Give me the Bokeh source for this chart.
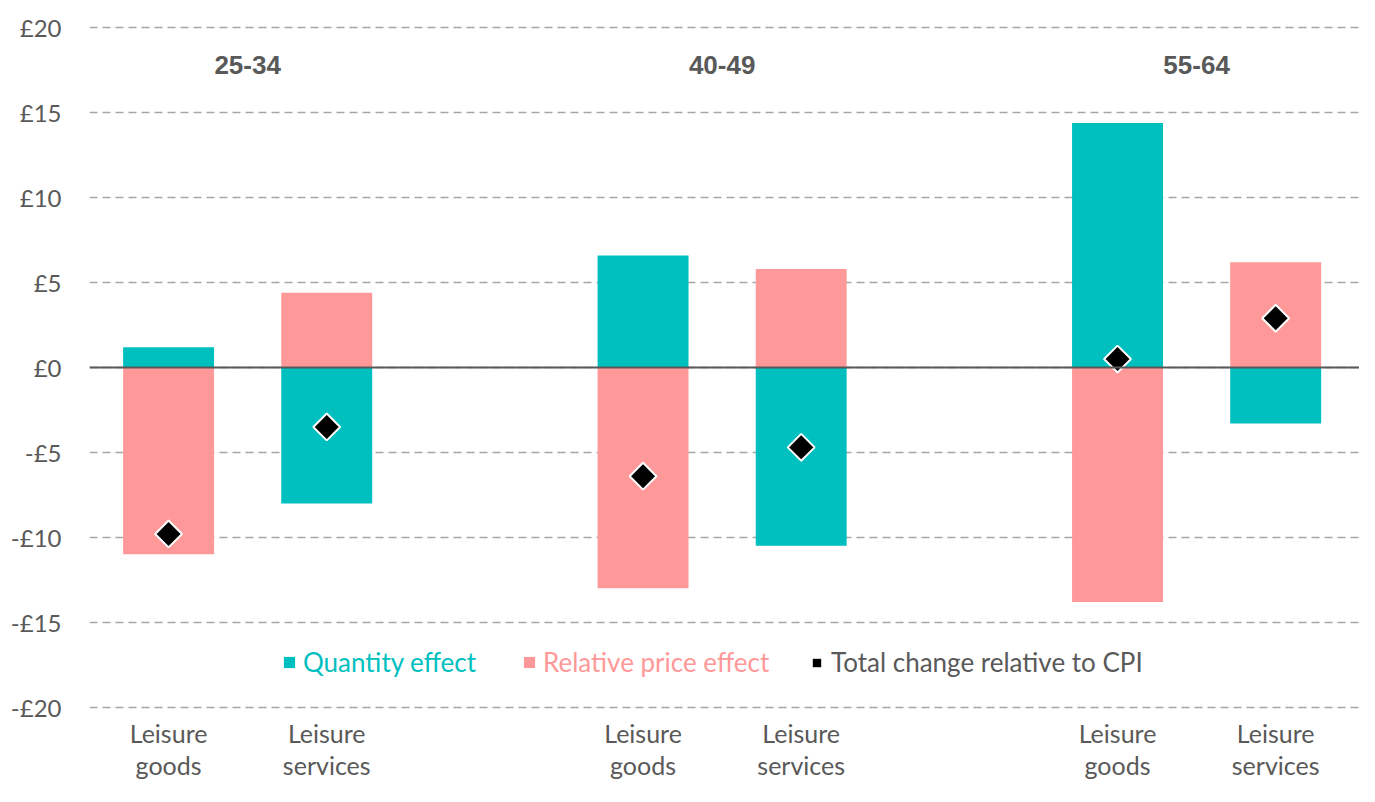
import math
from bokeh.plotting import figure
from bokeh.models import (ColumnDataSource, Range1d, FixedTicker, Legend, LegendItem, Span)
from bokeh.core.properties import value
from bokeh.embed import file_html
from bokeh.resources import INLINE

# ---- data ----
age_groups = ["25-34", "40-49", "55-64"]
categories = ["Leisure\ngoods", "Leisure\nservices"]
quantity_effect = [1.2, -8.0, 6.6, -10.5, 14.4, -3.3]
price_effect = [-11.0, 4.4, -13.0, 5.8, -13.8, 6.2]
total_change = [-9.8, -3.5, -6.4, -4.7, 0.5, 2.9]
y_ticks = [-20, -15, -10, -5, 0, 5, 10, 15, 20]
y_tick_labels = ["-£20", "-£15", "-£10", "-£5", "£0", "£5", "£10", "£15", "£20"]

TEAL = "#00BFBF"
PINK = "#FF9999"
GREY = "#595959"
FONT = "Lato"

# positions: each age group takes 3 slots (2 bars + gap)
xs = []
labels = []
for gi, g in enumerate(age_groups):
    for ci, c in enumerate(categories):
        xs.append(gi * 3 + ci)
        labels.append(c)
group_x = [gi * 3 + 0.5 for gi in range(len(age_groups))]

src = ColumnDataSource(dict(x=xs, q=quantity_effect, p=price_effect, t=total_change))

y_lo, y_hi = min(y_ticks), max(y_ticks)
p = figure(width=1359, height=786, output_backend="svg", toolbar_location=None,
           x_range=Range1d(-0.5, 7.53), y_range=Range1d(y_lo - 4.67, y_hi + 1.61),
           min_border=0, min_border_left=89)
p.outline_line_color = None
p.background_fill_color = "white"
p.xaxis.visible = False

# bars
r_q = p.vbar(x="x", top="q", bottom=0, width=0.575, source=src, fill_color=TEAL, line_color=None)
r_p = p.vbar(x="x", top="p", bottom=0, width=0.575, source=src, fill_color=PINK, line_color=None)

# zero line
p.add_layout(Span(location=0, dimension="width", line_color=GREY, line_width=2))

# totals
r_t = p.scatter(x="x", y="t", source=src, marker="square", angle=math.pi / 4, size=19,
                fill_color="black", line_color="white", line_width=2)

# group labels
gsrc = ColumnDataSource(dict(x=group_x, y=[17.8] * len(group_x), text=age_groups))
p.text(x="x", y="y", text="text", source=gsrc, text_align="center", text_baseline="middle",
       text_font=value("Liberation Sans"), text_font_style="bold", text_font_size="26px",
       text_color=GREY)

# category labels under the bottom gridline
csrc = ColumnDataSource(dict(x=xs, y=[y_lo] * len(xs), text=labels))
p.text(x="x", y="y", text="text", source=csrc, text_align="center", text_baseline="top",
       y_offset=11, text_font=value(FONT), text_font_size="25px", text_color=GREY,
       text_line_height=1.05)

# y axis
p.yaxis.ticker = FixedTicker(ticks=y_ticks)
p.yaxis.major_label_overrides = {float(v): l for v, l in zip(y_ticks, y_tick_labels)}
p.yaxis.axis_line_color = None
p.yaxis.major_tick_line_color = None
p.yaxis.minor_tick_line_color = None
p.yaxis.major_tick_out = 0
p.yaxis.major_tick_in = 0
p.yaxis.major_label_text_font = FONT
p.yaxis.major_label_text_font_size = "24px"
p.yaxis.major_label_text_color = GREY
p.yaxis.major_label_standoff = 28

p.xgrid.grid_line_color = None
p.ygrid.ticker = FixedTicker(ticks=y_ticks)
p.ygrid.grid_line_color = "#A6A6A6"
p.ygrid.grid_line_dash = "8 5"
p.ygrid.grid_line_width = 1.5

# legends (one per item so each text gets its own colour)
r_leg = p.scatter(x=[float("nan")], y=[float("nan")], marker="square", angle=math.pi / 4,
                  fill_color="black", line_color=None)
leg_specs = [
    ("Quantity effect", r_q, TEAL, 193, 14, 14, 7),
    ("Relative price effect", r_p, PINK, 433, 14, 14, 7),
    ("Total change relative to CPI", r_leg, GREY, 717, 21, 21, 4),
]
for label, rend, col, xloc, gw, gh, so in leg_specs:
    leg = Legend(items=[LegendItem(label=label, renderers=[rend])], location=(xloc, 108),
                 orientation="horizontal", border_line_color=None, background_fill_alpha=0,
                 padding=0, margin=0, spacing=0, glyph_width=gw, glyph_height=gh,
                 label_standoff=so, label_text_font=FONT, label_text_font_size="26px",
                 label_text_color=col, label_height=30)
    p.add_layout(leg, "center")

open("out.html", "w").write(file_html(p, INLINE))
